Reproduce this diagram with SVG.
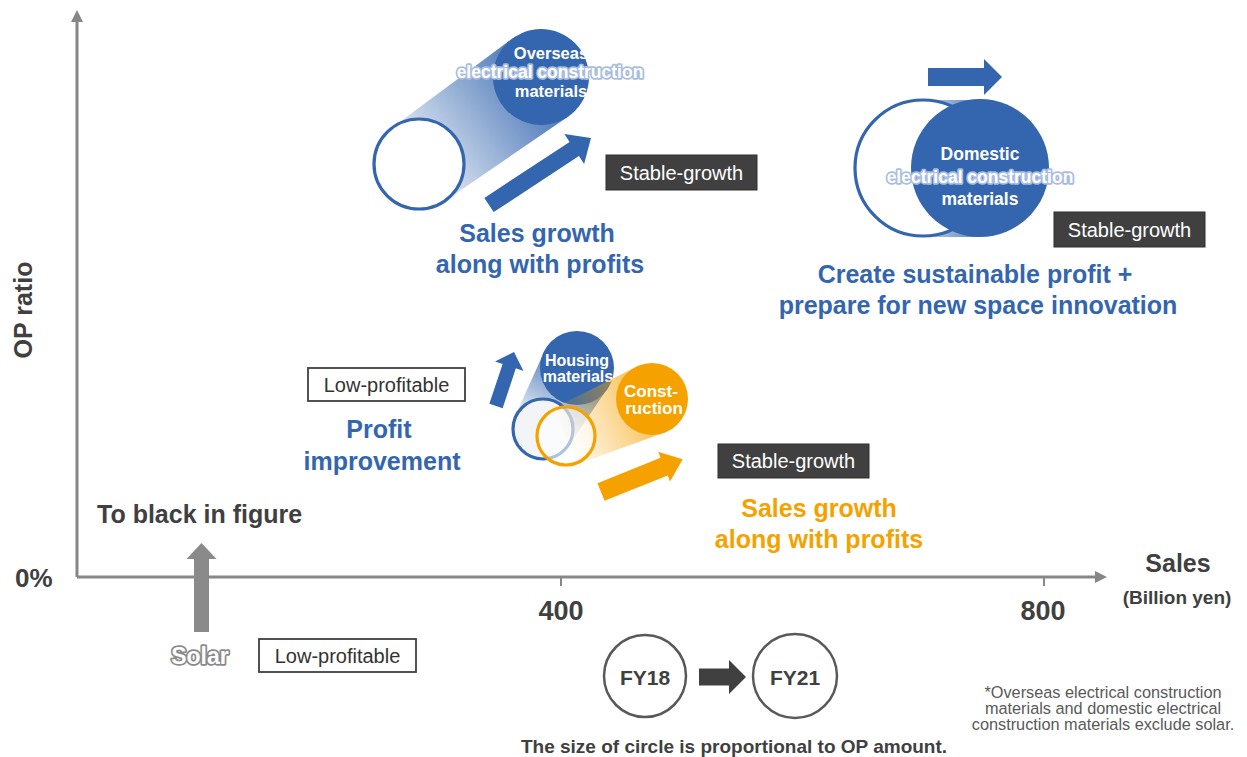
<svg xmlns="http://www.w3.org/2000/svg" width="1247" height="757" viewBox="0 0 1247 757">
  <style>
    text { font-family: "Liberation Sans", Arial, sans-serif; }
    .axis { stroke: #878787; stroke-width: 3; fill: none; }
    .axislbl { font-weight: bold; fill: #404040; }
    .blue { fill: #3466AF; }
    .orange { fill: #F5A200; }
    .head { font-weight: bold; font-size: 25px; text-anchor: middle; }
    .inner { font-weight: bold; fill: #fff; text-anchor: middle; }
    .halo { paint-order: stroke; stroke: #a9bde0; stroke-width: 3.5; stroke-linejoin: round; }
    .darkbox rect { fill: #404040; stroke: #2e2e2e; stroke-width: 1; }
    .darkbox text { fill: #fff; font-size: 20px; text-anchor: middle; }
    .lightbox rect { fill: #fff; stroke: #404040; stroke-width: 1.8; }
    .lightbox text { fill: #333; font-size: 20px; text-anchor: middle; }
    .ring { fill: #fff; stroke-width: 3.2; }
  </style>
  <defs>
    <marker id="axhead" viewBox="0 0 10 10" refX="5" refY="5" markerWidth="4" markerHeight="4" orient="auto">
      <path d="M0,0 L10,5 L0,10 Z" fill="#878787"/>
    </marker>
    <linearGradient id="gOverseas" gradientUnits="userSpaceOnUse" x1="419" y1="164" x2="541" y2="77">
      <stop offset="0" stop-color="#3466AF" stop-opacity="0.15"/>
      <stop offset="1" stop-color="#3466AF" stop-opacity="0.9"/>
    </linearGradient>
    <linearGradient id="gDomestic" gradientUnits="userSpaceOnUse" x1="923" y1="0" x2="980" y2="0">
      <stop offset="0" stop-color="#3466AF" stop-opacity="0.3"/>
      <stop offset="1" stop-color="#3466AF" stop-opacity="0.8"/>
    </linearGradient>
    <linearGradient id="gHousing" gradientUnits="userSpaceOnUse" x1="543" y1="429" x2="577" y2="368">
      <stop offset="0" stop-color="#3466AF" stop-opacity="0.08"/>
      <stop offset="1" stop-color="#3466AF" stop-opacity="0.85"/>
    </linearGradient>
    <linearGradient id="gConstr" gradientUnits="userSpaceOnUse" x1="566" y1="436" x2="652" y2="399">
      <stop offset="0" stop-color="#F5A200" stop-opacity="0.05"/>
      <stop offset="1" stop-color="#F5A200" stop-opacity="0.7"/>
    </linearGradient>
  </defs>

  <!-- axes -->
  <g id="axes">
    <line class="axis" x1="77" y1="577" x2="77" y2="16" marker-end="url(#axhead)"/>
    <line class="axis" x1="77" y1="577" x2="1101" y2="577" marker-end="url(#axhead)"/>
    <line x1="561" y1="578" x2="561" y2="586" stroke="#878787" stroke-width="2"/>
    <line x1="1044" y1="578" x2="1044" y2="586" stroke="#878787" stroke-width="2"/>
    <text class="axislbl" x="15" y="587" font-size="26">0%</text>
    <text class="axislbl" x="561" y="620" font-size="27" text-anchor="middle">400</text>
    <text class="axislbl" x="1043" y="620" font-size="27" text-anchor="middle">800</text>
    <text class="axislbl" x="1178" y="572" font-size="25" text-anchor="middle">Sales</text>
    <text class="axislbl" x="1177" y="604" font-size="19" text-anchor="middle">(Billion yen)</text>
    <text class="axislbl" font-size="25" text-anchor="middle" transform="translate(32,310) rotate(-90)">OP ratio</text>
  </g>

  <!-- overseas electrical construction materials -->
  <g id="overseas">
    <polygon points="393,127 513,38 569,116 445,201" fill="url(#gOverseas)"/>
    <circle class="ring" cx="419" cy="164" r="45" stroke="#3466AF"/>
    <circle class="blue" cx="541" cy="77" r="48"/>
    <text class="inner" x="551" y="59" font-size="16.5">Overseas</text>
    <text class="inner halo" x="550" y="78" font-size="17.5">electrical construction</text>
    <text class="inner" x="551" y="97" font-size="16.5">materials</text>
    <path class="blue" transform="translate(489,205) rotate(-33.3)" d="M0,-8.5 L102,-8.5 L102,-18 L122,0 L102,18 L102,8.5 L0,8.5 Z"/>
    <g class="darkbox"><rect x="606" y="155" width="151" height="35"/><text x="681.5" y="180">Stable-growth</text></g>
    <text class="head blue" x="537" y="242">Sales growth</text>
    <text class="head blue" x="540" y="273">along with profits</text>
  </g>

  <!-- domestic electrical construction materials -->
  <g id="domestic">
    <rect x="923" y="100" width="57" height="137" fill="url(#gDomestic)"/>
    <circle class="ring" cx="923" cy="168" r="68" stroke="#3466AF"/>
    <circle class="blue" cx="980" cy="168" r="69"/>
    <text class="inner" x="980" y="160" font-size="17.5">Domestic</text>
    <text class="inner halo" x="980" y="183" font-size="17.5">electrical construction</text>
    <text class="inner" x="980" y="205" font-size="17.5">materials</text>
    <path class="blue" transform="translate(928,77)" d="M0,-9 L56,-9 L56,-18 L74,0 L56,18 L56,9 L0,9 Z"/>
    <g class="darkbox"><rect x="1054" y="212" width="151" height="35"/><text x="1129.5" y="237">Stable-growth</text></g>
    <text class="head blue" x="975" y="283">Create sustainable profit +</text>
    <text class="head blue" x="978" y="314">prepare for new space innovation</text>
  </g>

  <!-- housing materials -->
  <g id="housing">
    <polygon points="516,414 545,350 609,386 570,444" fill="url(#gHousing)"/>
    <circle cx="543" cy="429" r="30" fill="#f3f4f7" stroke="#3466AF" stroke-width="3.2"/>
    <circle class="blue" cx="577" cy="368" r="37"/>
    <text class="inner" x="577" y="366" font-size="16">Housing</text>
    <text class="inner" x="578" y="382" font-size="16">materials</text>
    <path class="blue" transform="translate(496,406) rotate(-71.6)" d="M0,-7 L42,-7 L42,-15 L57,0 L42,15 L42,7 L0,7 Z"/>
    <g class="lightbox"><rect x="308" y="368" width="157" height="33"/><text x="386.5" y="392">Low-profitable</text></g>
    <text class="head blue" x="379" y="438">Profit</text>
    <text class="head blue" x="382" y="470">improvement</text>
  </g>

  <!-- construction -->
  <g id="construction">
    <polygon points="554,408 638,366 666,432 578,464" fill="url(#gConstr)"/>
    <circle cx="566" cy="436" r="29" fill="#ffffff" fill-opacity="0.6" stroke="#F5A200" stroke-width="3.2"/>
    <circle class="orange" cx="652" cy="399" r="36"/>
    <text class="inner" x="651" y="397" font-size="17">Const-</text>
    <text class="inner" x="654" y="414" font-size="17">ruction</text>
    <path class="orange" transform="translate(601,492) rotate(-21.9)" d="M0,-9.5 L68,-9.5 L68,-16 L88,0 L68,16 L68,9.5 L0,9.5 Z"/>
    <g class="darkbox"><rect x="718" y="444" width="151" height="34"/><text x="793.5" y="468">Stable-growth</text></g>
    <text class="head orange" x="819" y="517">Sales growth</text>
    <text class="head orange" x="819" y="548">along with profits</text>
  </g>

  <!-- solar -->
  <g id="solar">
    <text class="axislbl" x="97" y="523" font-size="25">To black in figure</text>
    <path fill="#8a8a8a" transform="translate(201.5,632) rotate(-90)" d="M0,-7.5 L73,-7.5 L73,-15 L89,0 L73,15 L73,7.5 L0,7.5 Z"/>
    <text x="200" y="664" font-size="23" font-weight="bold" text-anchor="middle" fill="#fff" stroke="#8a8a8a" stroke-width="3.5" stroke-linejoin="round" paint-order="stroke">Solar</text>
    <g class="lightbox"><rect x="259" y="639" width="157" height="33"/><text x="337.5" y="663">Low-profitable</text></g>
  </g>

  <!-- legend -->
  <g id="legend">
    <circle cx="645" cy="676" r="41" fill="#fff" stroke="#595959" stroke-width="2.5"/>
    <text class="axislbl" x="645" y="685" font-size="21" text-anchor="middle">FY18</text>
    <path fill="#404040" transform="translate(699,677)" d="M0,-8.5 L30,-8.5 L30,-17 L47,0 L30,17 L30,8.5 L0,8.5 Z"/>
    <circle cx="795" cy="676" r="42" fill="#fff" stroke="#595959" stroke-width="2.5"/>
    <text class="axislbl" x="795" y="685" font-size="21" text-anchor="middle">FY21</text>
    <text class="axislbl" x="734" y="753" font-size="19" text-anchor="middle">The size of circle is proportional to OP amount.</text>
  </g>

  <!-- footnote -->
  <g id="footnote" fill="#595959" font-size="16.3" text-anchor="middle">
    <text x="1103" y="698">*Overseas electrical construction</text>
    <text x="1103" y="714">materials and domestic electrical</text>
    <text x="1103" y="730">construction materials exclude solar.</text>
  </g>
</svg>
